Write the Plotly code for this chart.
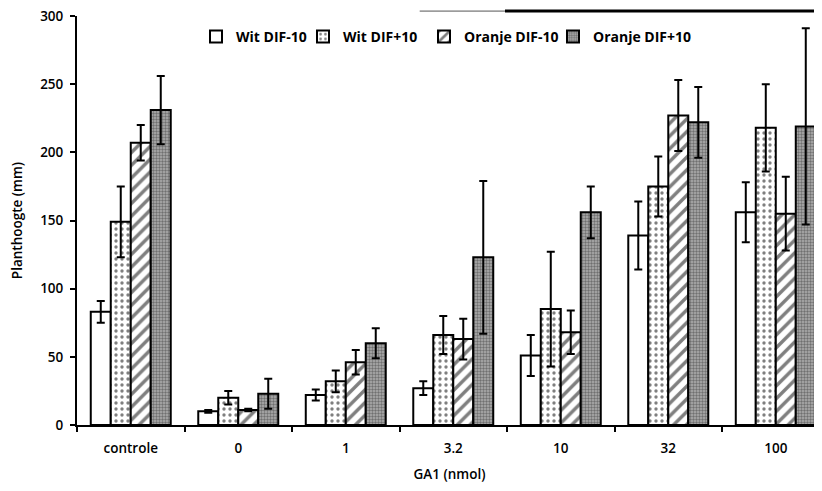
import plotly.graph_objects as go

categories = ["controle", "0", "1", "3.2", "10", "32", "100"]
series_names = ["Wit DIF-10", "Wit DIF+10", "Oranje DIF-10", "Oranje DIF+10"]
wit_min10 = [83, 10, 22, 27, 51, 139, 156]
wit_min10_err = [8, 1, 4, 5, 15, 25, 22]
wit_plus10 = [149, 20, 32, 66, 85, 175, 218]
wit_plus10_err = [26, 5, 8, 14, 42, 22, 32]
oranje_min10 = [207, 11, 46, 63, 68, 227, 155]
oranje_min10_err = [13, 1, 9, 15, 16, 26, 27]
oranje_plus10 = [231, 23, 60, 123, 156, 222, 219]
oranje_plus10_err = [25, 11, 11, 56, 19, 26, 72]
y_ticks = [0, 50, 100, 150, 200, 250, 300]

values = [wit_min10, wit_plus10, oranje_min10, oranje_plus10]
errors = [wit_min10_err, wit_plus10_err, oranje_min10_err, oranje_plus10_err]
patterns = [
    dict(shape="", bgcolor="white"),
    dict(shape=".", bgcolor="white", fgcolor="black", size=6, solidity=0.25),
    dict(shape="/", bgcolor="white", fgcolor="black", size=9, solidity=0.38),
    dict(shape=".", bgcolor="#b0b0b0", fgcolor="#303030", size=3, solidity=0.5),
]
colors = ["white", "white", "white", "#b0b0b0"]
legend_ids = ["legend", "legend2", "legend3", "legend4"]
legend_px = [196, 303, 424, 553]   # left edge of each legend entry (page px)

FONT = "Open Sans"
TF = dict(family=FONT, size=13.5, color="black", weight=600)
LF = dict(family=FONT, size=14, color="black", weight=700)
fig = go.Figure()
for name, v, e, p, c, lg in zip(series_names, values, errors, patterns, colors, legend_ids):
    fig.add_trace(go.Bar(
        name=name, x=categories, y=v, legend=lg,
        marker=dict(color=c, line=dict(color="black", width=2), pattern=p),
        error_y=dict(type="data", array=e, visible=True, color="black", thickness=2, width=4),
    ))

PLOT_L, PLOT_W = 77, 745
legends = {}
for lg, px in zip(legend_ids, legend_px):
    legends[lg] = dict(orientation="h", x=(px - PLOT_L) / PLOT_W, y=0.9487, xanchor="left",
                       yanchor="middle", bgcolor="rgba(0,0,0,0)", itemwidth=30, font=LF)

# page has an 8px body margin; figure is sized/offset so the plot area sits at page x 77..822, y 16..425
fig.update_layout(
    width=814, height=483,
    margin=dict(l=69, r=0, t=8, b=66),
    paper_bgcolor="white", plot_bgcolor="white",
    barmode="group", bargap=0.256, bargroupgap=0,
    font=TF,
    showlegend=True,
    xaxis=dict(range=[-0.5, 6.43], showline=True, linecolor="black", linewidth=2,
               ticks="outside", tickson="boundaries", ticklen=5, tickwidth=1.5, tickcolor="black",
               showgrid=False, zeroline=False, automargin=False, ticklabelstandoff=10,
               title=dict(text="GA1 (nmol)", standoff=13, font=TF),
               tickfont=TF),
    yaxis=dict(range=[0, 300], tickvals=y_ticks, showline=True, linecolor="black", linewidth=2,
               ticks="outside", ticklen=5, tickwidth=1.5, tickcolor="black",
               showgrid=False, zeroline=False, automargin=False, ticklabelstandoff=4,
               ticklabeloverflow="allow",
               title=dict(text="Planthoogte (mm)", standoff=14, font=TF),
               tickfont=TF),
    **legends,
)

# scan artefact line at top right
fig.add_shape(type="line", xref="paper", yref="paper", x0=0.46, x1=0.5745, y0=1.012, y1=1.012,
              line=dict(color="#555555", width=1))
fig.add_shape(type="line", xref="paper", yref="paper", x0=0.5745, x1=1.0, y0=1.012, y1=1.012,
              line=dict(color="black", width=3))

fig.write_html("out.html")
